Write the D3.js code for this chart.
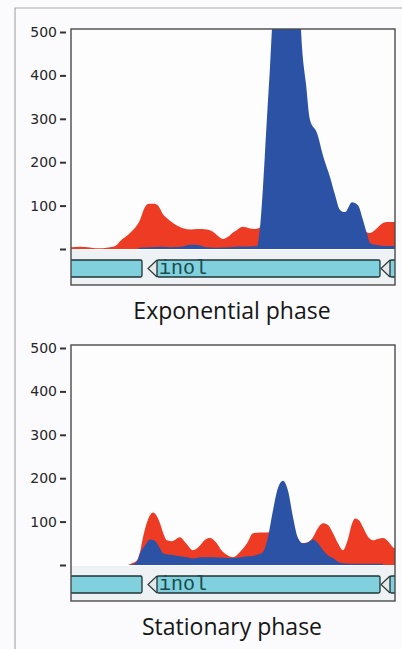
<!DOCTYPE html>
<html>
<head>
<meta charset="utf-8">
<script src="https://cdn.jsdelivr.net/npm/d3@7"></script>
<style>
  body { margin: 0; background: #fbfbfd; }
  svg { display: block; }
</style>
</head>
<body>
<svg id="chart" width="402" height="649"></svg>
<script>
// read-depth profiles, [position, reads]; position is 0..324 across the window
var expRed = [[0,4],[9,5],[17,4],[24,2],[32,2],[39,4],[45,8],[49,18],[59,37],[69,67],[74,97],[78,104],
  [83,104],[87,100],[92,80],[96,71],[102,60],[112,48],[120,45],[126,46],[136,45],[142,40],[147,30],
  [152,23],[157,28],[162,38],[166,44],[172,51],[178,48],[184,46],[187,47],[194,60],[220,70],[260,60],
  [294,40],[299,37],[306,48],[312,60],[316,62],[324,62]];
var expBlue = [[67,0],[68,3],[80,4],[90,5],[100,4],[110,5],[119,10],[127,9],[135,4],[145,3],[160,4],
  [170,6],[180,6],[186,7],[189,50],[192,143],[196,304],[199,420],[202,540],[208,600],[215,620],
  [222,600],[229,540],[231,465],[235,380],[239,297],[246,267],[252,215],[259,166],[264,125],[269,90],
  [274,85],[281,108],[287,101],[292,67],[296,35],[299,14],[306,9],[315,7],[324,7]];
var statRed = [[57,0],[62,5],[66,11],[69,30],[72,64],[77,105],[82,121],[86,112],[89,96],[92,75],[96,57],
  [101,55],[109,64],[115,50],[122,34],[129,45],[134,58],[139,62],[144,55],[152,30],[157,22],[162,18],
  [169,30],[176,50],[182,73],[189,75],[196,75],[210,80],[229,50],[236,52],[242,64],[247,85],[252,96],
  [257,92],[262,73],[267,50],[272,34],[277,60],[281,95],[284,107],[288,103],[292,87],[297,65],[302,57],
  [307,60],[312,62],[317,55],[322,41],[324,38]];
var statBlue = [[57,0],[62,2],[66,8],[69,27],[74,45],[79,59],[83,57],[86,50],[89,38],[92,27],[97,24],
  [102,23],[109,20],[116,18],[122,15],[129,18],[136,18],[142,18],[150,17],[157,16],[162,16],[170,18],
  [176,20],[182,21],[187,24],[192,30],[197,64],[202,126],[207,178],[212,194],[217,171],[222,110],
  [227,62],[232,50],[237,52],[242,59],[247,50],[252,34],[257,22],[262,16],[269,5],[280,3],[300,3],[312,3]];
var panelTitles = ["Exponential phase", "Stationary phase"];
var yTicks = [0, 100, 200, 300, 400, 500];
var yTickLabels = ["", "100", "200", "300", "400", "500"];
// genes on the track: [start, end]; all point left
var genes = [[-20, 71], [77, 309], [310, 360]];
var geneNames = ["", "inol", ""];

var svg = d3.select("#chart");

// outer figure frame
svg.append("path").attr("d", "M15,649 V8 H402")
  .attr("fill", "none").attr("stroke", "#a9a9a9").attr("stroke-width", 1.2);

var x = d3.scaleLinear().domain([0, 324]).range([71, 395]);
var y = d3.scaleLinear().domain([0, 500]).range([249, 32]);

function drawPanel(g, red, blue, title, idx) {
  // plot background
  g.append("rect").attr("x", 71).attr("y", 29).attr("width", 324).attr("height", 256)
    .attr("fill", "#fdfdfd");

  var clipId = "clip" + idx;
  g.append("clipPath").attr("id", clipId).append("rect")
    .attr("x", 71).attr("y", 29).attr("width", 324).attr("height", 220);

  var area = d3.area()
    .x(function(d) { return x(d[0]); })
    .y0(y(0))
    .y1(function(d) { return y(d[1]); })
    .curve(d3.curveMonotoneX);

  g.append("path").datum(red).attr("d", area)
    .attr("fill", "#ee3b24").attr("clip-path", "url(#" + clipId + ")");
  g.append("path").datum(blue).attr("d", area)
    .attr("fill", "#2b52a4").attr("clip-path", "url(#" + clipId + ")");

  // gene track
  var track = g.append("g");
  track.append("rect").attr("x", 71).attr("y", 250).attr("width", 324).attr("height", 35)
    .attr("fill", "#eff2f4");
  var trackClip = "tclip" + idx;
  g.append("clipPath").attr("id", trackClip).append("rect")
    .attr("x", 71).attr("y", 250).attr("width", 324).attr("height", 35);
  var gt = track.append("g").attr("clip-path", "url(#" + trackClip + ")");
  genes.forEach(function(gn, i) {
    var x0 = x(gn[0]), x1 = x(gn[1]);
    var top = 260, bot = 277, mid = (top + bot) / 2;
    if (i > 0) {
      // open arrow head pointing left
      gt.append("path").attr("d", "M" + (x0 + 9) + "," + top + " L" + x0 + "," + mid + " L" + (x0 + 9) + "," + bot)
        .attr("fill", "#e6e8ea").attr("stroke", "#2a3a3a").attr("stroke-width", 1.2);
      x0 = x0 + 9;
    }
    gt.append("rect").attr("x", x0).attr("y", top).attr("width", x1 - x0).attr("height", bot - top)
      .attr("rx", 1.5).attr("fill", "#80d1dd").attr("stroke", "#1f3535").attr("stroke-width", 1.3);
    if (geneNames[i]) {
      gt.append("text").attr("x", x0 + 2).attr("y", bot - 3)
        .attr("font-family", "Liberation Mono, DejaVu Sans Mono, monospace")
        .attr("font-size", 20).attr("fill", "#1b4b4d").text(geneNames[i]);
    }
  });

  // frame
  g.append("rect").attr("x", 71).attr("y", 29).attr("width", 324).attr("height", 256)
    .attr("fill", "none").attr("stroke", "#4a4a4a").attr("stroke-width", 1.4);

  // y axis
  var axis = d3.axisLeft(y).tickValues(yTicks).tickSize(6).tickPadding(3)
    .tickFormat(function(d, i) { return yTickLabels[i]; });
  var ax = g.append("g").attr("transform", "translate(66,0)").call(axis);
  ax.select(".domain").remove();
  ax.selectAll(".tick line").attr("stroke", "#333").attr("stroke-width", 2);
  ax.selectAll(".tick text").attr("font-family", "DejaVu Sans, sans-serif")
    .attr("font-size", 14).attr("fill", "#262626");

  g.append("text").attr("x", 232).attr("y", 319).attr("text-anchor", "middle")
    .attr("font-family", "Open Sans, Noto Sans, sans-serif").attr("font-size", 23)
    .attr("fill", "#161616").text(title);
}

drawPanel(svg.append("g"), expRed, expBlue, panelTitles[0], 0);
drawPanel(svg.append("g").attr("transform", "translate(0,316)"), statRed, statBlue, panelTitles[1], 1);
</script>
</body>
</html>
